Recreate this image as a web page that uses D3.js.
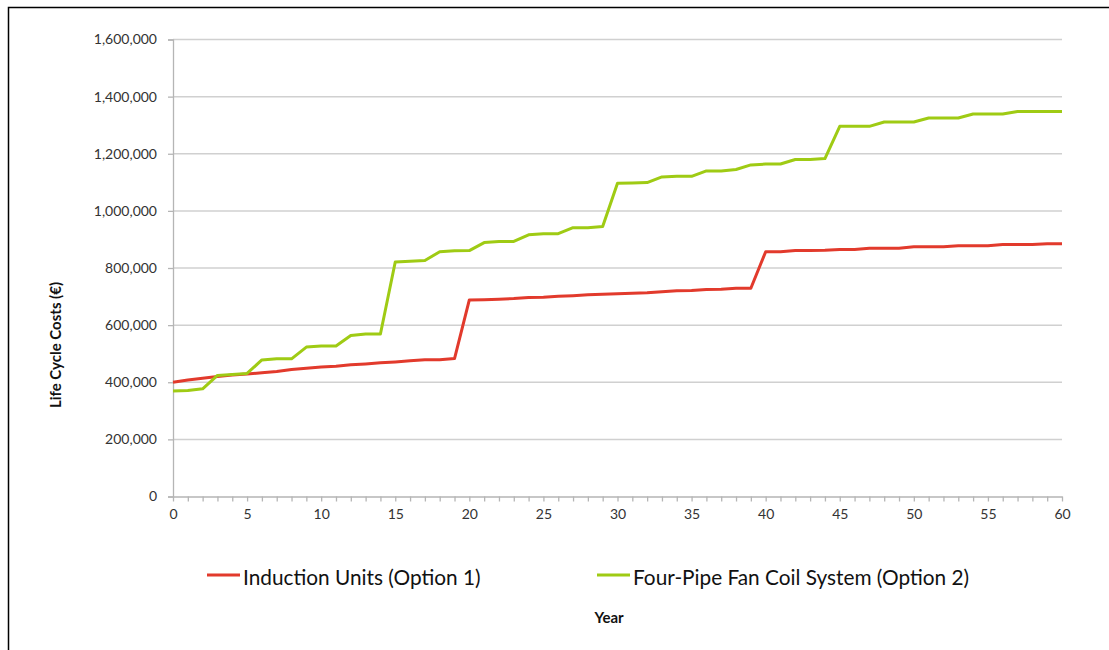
<!DOCTYPE html>
<html>
<head>
<meta charset="utf-8">
<script src="https://cdn.jsdelivr.net/npm/d3@7"></script>
<style>
  html, body { margin: 0; padding: 0; background: #fff; }
  svg { display: block; }
</style>
</head>
<body>
<svg id="chart" width="1109" height="650"></svg>
<script>
// Life cycle cost per year of operation (€)
const years = d3.range(0, 61);

const inductionUnits = [
  400000, 408000, 414000, 420000, 425000, 429000, 433000, 438000, 445000, 449000,
  453000, 456000, 461000, 464000, 468000, 471000, 475000, 479000, 479000, 483000,
  688000, 689000, 691000, 693000, 697000, 698000, 701000, 703000, 706000, 708000,
  710000, 712000, 713000, 717000, 720000, 721000, 725000, 726000, 729000, 729000,
  857000, 857000, 861000, 861000, 862000, 865000, 865000, 869000, 869000, 869000,
  874000, 874000, 874000, 878000, 878000, 878000, 882000, 882000, 882000, 885000,
  885000
];

const fanCoil = [
  369000, 371000, 377000, 424000, 427000, 431000, 478000, 482000, 482000, 523000,
  527000, 527000, 564000, 569000, 569000, 821000, 824000, 826000, 857000, 860000,
  861000, 889000, 893000, 893000, 916000, 920000, 920000, 941000, 941000, 945000,
  1097000, 1098000, 1099000, 1119000, 1121000, 1121000, 1140000, 1140000, 1145000, 1161000,
  1164000, 1164000, 1180000, 1180000, 1183000, 1296000, 1296000, 1296000, 1311000, 1311000,
  1311000, 1325000, 1325000, 1325000, 1339000, 1339000, 1339000, 1348000, 1348000, 1348000,
  1348000
];

const yTicks = [0, 200000, 400000, 600000, 800000, 1000000, 1200000, 1400000, 1600000];
const xTicks = [0, 5, 10, 15, 20, 25, 30, 35, 40, 45, 50, 55, 60];

const seriesNames = ["Induction Units (Option 1)", "Four-Pipe Fan Coil System (Option 2)"];
const seriesColors = ["#e23a2c", "#9fcb14"];

const svg = d3.select("#chart");
const font = "Lato, 'Open Sans', sans-serif";

// outer frame
svg.append("rect")
  .attr("x", 8.5).attr("y", 7.5)
  .attr("width", 1120).attr("height", 700)
  .attr("fill", "#fff").attr("stroke", "#000").attr("stroke-width", 1.5);

const plot = { left: 173, right: 1062, top: 39.5, bottom: 496.5 };

const x = d3.scaleLinear().domain([0, 60]).range([plot.left, plot.right]);
const y = d3.scaleLinear().domain([0, 1600000]).range([plot.bottom, plot.top]);

// horizontal gridlines
svg.append("g")
  .selectAll("line")
  .data(yTicks.filter(d => d > 0))
  .join("line")
  .attr("x1", plot.left).attr("x2", plot.right)
  .attr("y1", d => y(d)).attr("y2", d => y(d))
  .attr("stroke", "#d0d0d0").attr("stroke-width", 1.5);

// y axis
const fmt = d3.format(",");
const yAxis = svg.append("g")
  .attr("transform", `translate(${plot.left},0)`)
  .call(d3.axisLeft(y).tickValues(yTicks).tickFormat(fmt).tickSize(5).tickPadding(11));
yAxis.select(".domain").attr("stroke", "#b5b5b5").attr("stroke-width", 1.3);
yAxis.selectAll(".tick line").attr("stroke", "#b5b5b5").attr("stroke-width", 1.3);
yAxis.selectAll("text")
  .attr("font-family", font).attr("font-size", 14).attr("fill", "#333");

// x axis: minor tick every year, labels every five
const xAxis = svg.append("g")
  .attr("transform", `translate(0,${plot.bottom})`)
  .call(d3.axisBottom(x).tickValues(years).tickSize(5).tickSizeOuter(0)
    .tickFormat(d => xTicks.includes(d) ? d : ""));
xAxis.select(".domain").attr("stroke", "#b5b5b5").attr("stroke-width", 1.3);
xAxis.selectAll(".tick line").attr("stroke", "#b5b5b5").attr("stroke-width", 1.3);
xAxis.selectAll("text")
  .attr("font-family", font).attr("font-size", 14).attr("fill", "#333")
  .attr("dy", "1.05em");

// series lines
const line = d3.line()
  .x((d, i) => x(years[i]))
  .y(d => y(d));

[inductionUnits, fanCoil].forEach((vals, k) => {
  svg.append("path")
    .datum(vals)
    .attr("fill", "none")
    .attr("stroke", seriesColors[k])
    .attr("stroke-width", 3)
    .attr("stroke-linejoin", "round")
    .attr("d", line);
});

// axis titles
svg.append("text")
  .attr("transform", `translate(61,345) rotate(-90)`)
  .attr("text-anchor", "middle")
  .attr("font-family", font).attr("font-weight", "bold").attr("font-size", 15)
  .attr("fill", "#111")
  .text("Life Cycle Costs (€)");

svg.append("text")
  .attr("x", 609).attr("y", 623)
  .attr("text-anchor", "middle")
  .attr("font-family", font).attr("font-weight", "bold").attr("font-size", 15)
  .attr("fill", "#111")
  .text("Year");

// legend
const legendX = [207, 597];
const legend = svg.append("g");
seriesNames.forEach((name, k) => {
  legend.append("line")
    .attr("x1", legendX[k]).attr("x2", legendX[k] + 33)
    .attr("y1", 575).attr("y2", 575)
    .attr("stroke", seriesColors[k]).attr("stroke-width", 3);
  legend.append("text")
    .attr("x", legendX[k] + 36).attr("y", 585)
    .attr("font-family", font).attr("font-size", 20.8).attr("fill", "#111")
    .text(name);
});
</script>
</body>
</html>
